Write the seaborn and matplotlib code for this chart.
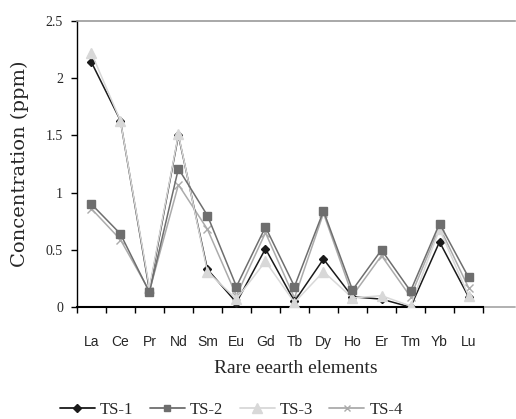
import matplotlib
matplotlib.use("Agg")
import matplotlib.pyplot as plt
import seaborn as sns
import pandas as pd
import numpy as np
from matplotlib.lines import Line2D

elements = ["La", "Ce", "Pr", "Nd", "Sm", "Eu", "Gd", "Tb", "Dy", "Ho", "Er", "Tm", "Yb", "Lu"]
ts1 = [2.14, 1.63, 0.15, 1.50, 0.33, 0.04, 0.51, 0.05, 0.42, 0.09, 0.07, 0.00, 0.57, 0.09]
ts2 = [0.90, 0.64, 0.13, 1.21, 0.80, 0.18, 0.70, 0.18, 0.84, 0.15, 0.50, 0.14, 0.73, 0.26]
ts3 = [2.22, 1.63, 0.17, 1.51, 0.31, 0.07, 0.40, 0.04, 0.31, 0.08, 0.10, 0.01, 0.68, 0.10]
ts4 = [0.86, 0.59, 0.14, 1.07, 0.68, 0.10, 0.65, 0.08, 0.82, 0.10, 0.45, 0.09, 0.70, 0.17]
series_names = ["TS-1", "TS-2", "TS-3", "TS-4"]
yticks = [0, 0.5, 1, 1.5, 2, 2.5]
ytick_labels = ["0", "0.5", "1", "1.5", "2", "2.5"]

rows = []
for name, vals in zip(series_names, [ts1, ts2, ts3, ts4]):
    for i, v in enumerate(vals):
        rows.append({"pos": i, "element": elements[i], "value": v, "series": name})
df = pd.DataFrame(rows)

sns.set_style("white")
plt.rcParams["font.family"] = ["Liberation Serif", "DejaVu Serif"]

fig = plt.figure(figsize=(5.16, 4.19), dpi=100)
ax = fig.add_axes([0.149, 0.267, 0.849, 0.683])

palette = {"TS-1": "#1a1a1a", "TS-2": "#6e6e6e", "TS-3": "#d8d8d8", "TS-4": "#ababab"}
markers = {"TS-1": "D", "TS-2": "s", "TS-3": "^", "TS-4": "x"}
msizes = {"TS-1": 4.5, "TS-2": 5.5, "TS-3": 7, "TS-4": 5.5}
zorders = {"TS-1": 3, "TS-2": 5, "TS-3": 4, "TS-4": 2}

for name in series_names:
    sub = df[df["series"] == name]
    sns.lineplot(data=sub, x="pos", y="value", ax=ax, color=palette[name],
                 marker=markers[name], markersize=msizes[name], linewidth=1.1,
                 markeredgecolor=palette[name], markeredgewidth=1.0,
                 sort=False, zorder=zorders[name], legend=False)

ax.set_xlim(-0.5, 14.6)
ax.set_ylim(0, 2.5)
ax.set_yticks(yticks)
ax.set_yticklabels(ytick_labels, fontsize=10)
ax.set_xticks(range(len(elements)))
ax.set_xticklabels(elements, fontsize=10, family=["Liberation Sans", "DejaVu Sans"])
ax.set_xticks(np.arange(-0.5, len(elements), 1.0), minor=True)
ax.tick_params(axis="x", which="major", length=0, pad=20)
ax.tick_params(axis="x", which="minor", length=4, width=1, direction="out", color="black", bottom=True)
ax.tick_params(axis="y", which="major", length=4, width=1, direction="out", left=True, color="black", pad=6)

ax.spines["right"].set_visible(False)
ax.spines["top"].set_visible(True)
ax.spines["top"].set_color("#999999")
ax.spines["top"].set_linewidth(1.2)
ax.spines["left"].set_color("black")
ax.spines["bottom"].set_color("black")
ax.spines["bottom"].set_linewidth(1.5)
ax.spines["left"].set_linewidth(1.0)
ax.spines["bottom"].set_bounds(-0.5, len(elements) - 0.5)
ax.plot([len(elements) - 0.5, 14.6], [0, 0], color="#aaaaaa", linewidth=1.3, clip_on=False, zorder=1)

ax.set_xlabel("Rare eearth elements", fontsize=14, labelpad=8)
ax.set_ylabel("Concentration (ppm)", fontsize=14, labelpad=12, family=["DejaVu Serif"])

handles = []
for name in series_names:
    handles.append(Line2D([0], [0], color=palette[name], marker=markers[name],
                          markersize=msizes[name] - 0.5, linewidth=1.3,
                          markeredgecolor=palette[name]))
fig.legend(handles, series_names, loc="center", bbox_to_anchor=(0.448, 0.022), ncol=4,
           frameon=False, fontsize=12, handlelength=2.1, handletextpad=0.3, columnspacing=1.0)

fig.savefig("out.png", dpi=100)
